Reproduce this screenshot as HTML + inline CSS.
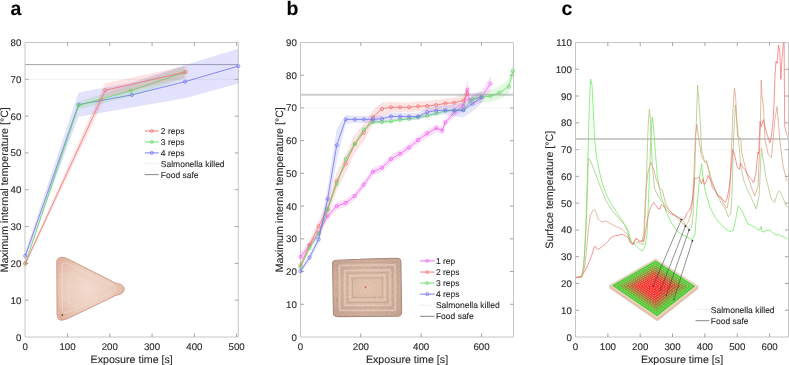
<!DOCTYPE html>
<html><head><meta charset="utf-8"><style>
html,body{margin:0;padding:0;background:#fff;}
svg{display:block;will-change:transform;}
text{font-family:"Liberation Sans", sans-serif;fill:#2a2a2a;text-rendering:geometricPrecision;stroke:#2a2a2a;stroke-width:0.12px;}
.tk{font-size:9.7px;}
.ti{font-size:10.65px;}
.lg{font-size:8.5px;}
.pl{font-size:19.5px;font-weight:bold;fill:#000;}
</style></head><body>
<svg width="789" height="365" viewBox="0 0 789 365">
<rect width="789" height="365" fill="#fff"/>
<path d="M25,42.5 H238.3 V337 H25 Z" fill="none" stroke="#c6c6c6" stroke-width="1"/>
<path d="M67.56,337 v-3.6 M67.56,42.5 v3.6 M109.82,337 v-3.6 M109.82,42.5 v3.6 M152.08,337 v-3.6 M152.08,42.5 v3.6 M194.34,337 v-3.6 M194.34,42.5 v3.6 M236.6,337 v-3.6 M236.6,42.5 v3.6 M25,300.19 h3.6 M238.3,300.19 h-3.6 M25,263.38 h3.6 M238.3,263.38 h-3.6 M25,226.57 h3.6 M238.3,226.57 h-3.6 M25,189.76 h3.6 M238.3,189.76 h-3.6 M25,152.95 h3.6 M238.3,152.95 h-3.6 M25,116.14 h3.6 M238.3,116.14 h-3.6 M25,79.33 h3.6 M238.3,79.33 h-3.6" fill="none" stroke="#9a9a9a" stroke-width="0.9"/>
<text x="25.3" y="349.9" text-anchor="middle" class="tk">0</text>
<text x="67.56" y="349.9" text-anchor="middle" class="tk">100</text>
<text x="109.82" y="349.9" text-anchor="middle" class="tk">200</text>
<text x="152.08" y="349.9" text-anchor="middle" class="tk">300</text>
<text x="194.34" y="349.9" text-anchor="middle" class="tk">400</text>
<text x="236.6" y="349.9" text-anchor="middle" class="tk">500</text>
<text x="21.3" y="340.5" text-anchor="end" class="tk">0</text>
<text x="21.3" y="303.69" text-anchor="end" class="tk">10</text>
<text x="21.3" y="266.88" text-anchor="end" class="tk">20</text>
<text x="21.3" y="230.07" text-anchor="end" class="tk">30</text>
<text x="21.3" y="193.26" text-anchor="end" class="tk">40</text>
<text x="21.3" y="156.45" text-anchor="end" class="tk">50</text>
<text x="21.3" y="119.64" text-anchor="end" class="tk">60</text>
<text x="21.3" y="82.83" text-anchor="end" class="tk">70</text>
<text x="21.3" y="46.02" text-anchor="end" class="tk">80</text>
<text x="131.65" y="362.9" text-anchor="middle" class="ti">Exposure time [s]</text>
<text transform="translate(8.1,189.75) rotate(-90)" text-anchor="middle" class="ti">Maximum internal temperature [°C]</text>
<text x="10.4" y="14.6" class="pl">a</text>
<defs><filter id="noiseF" x="0" y="0" width="1" height="1"><feTurbulence type="fractalNoise" baseFrequency="0.55" numOctaves="2" seed="3"/><feColorMatrix type="matrix" values="0 0 0 0 1  0 0 0 0 0.95  0 0 0 0 0.92  0 0 0 1.6 -0.75"/><feComposite in2="SourceGraphic" operator="in"/></filter><radialGradient id="triG" cx="0.45" cy="0.5" r="0.6"><stop offset="0" stop-color="#f1dacd"/><stop offset="0.6" stop-color="#eacbba"/><stop offset="1" stop-color="#deb19e"/></radialGradient></defs>
<g>
<path d="M56.8,262 C56.8,258.5 59,257 63,257.4 C66,257.8 69,259.5 73,261.5 L112.5,281.5 C114,282 115,283.2 117.5,283.6 C121.5,284 124.2,286.2 124.2,289.2 C124.2,292.5 121,294.6 117,295 C115.5,295.2 114.5,296 113,296.8 L72,316.5 C66,319.5 61,321.5 58.5,319 C57.2,317.5 57,314 57,310 Z" fill="url(#triG)" stroke="#c9937f" stroke-width="0.9"/>
<path d="M62,266 C62,263 64,262.5 67,263.5 L108,283.5 C113,285.5 115,287 115,289 C115,291 112,292.5 108,294.5 L69,312 C65,313.5 62.5,313 62.3,309.5 Z" fill="none" stroke="#f2dccf" stroke-width="0.9" stroke-opacity="0.7"/>
<path d="M69,273 L99,288.5 L69,304 Z" fill="none" stroke="#f2dccf" stroke-width="0.8" stroke-opacity="0.6"/>
<path d="M56.8,262 C56.8,258.5 59,257 63,257.4 C66,257.8 69,259.5 73,261.5 L112.5,281.5 C114,282 115,283.2 117.5,283.6 C121.5,284 124.2,286.2 124.2,289.2 C124.2,292.5 121,294.6 117,295 C115.5,295.2 114.5,296 113,296.8 L72,316.5 C66,319.5 61,321.5 58.5,319 C57.2,317.5 57,314 57,310 Z" fill="#fff" filter="url(#noiseF)" opacity="0.35"/>
<circle cx="62.3" cy="315" r="0.9" fill="#8a4a3a"/>
</g>
<line x1="25.5" y1="79.33" x2="237.8" y2="79.33" stroke="#cfcfcf" stroke-width="0.75" stroke-dasharray="0.8,1.2"/>
<line x1="25.5" y1="64.61" x2="237.8" y2="64.61" stroke="#a2a2a2" stroke-width="1.0"/>
<polygon points="25.3,252.12 78.55,92.47 131.8,82.39 185.04,65.12 238.29,48.81 238.29,83.42 185.04,98.25 131.8,107.42 78.55,116.77 25.3,259.48" fill="#7070f0" fill-opacity="0.2" stroke="none"/>
<polyline points="25.3,255.8 78.55,104.62 131.8,94.9 185.04,81.69 238.29,66.12" fill="none" stroke="#7070f2" stroke-width="0.8" stroke-linejoin="round"/>
<circle cx="25.3" cy="255.8" r="1.6" fill="none" stroke="#7070f2" stroke-width="0.75"/>
<circle cx="78.55" cy="104.62" r="1.6" fill="none" stroke="#7070f2" stroke-width="0.75"/>
<circle cx="131.8" cy="94.9" r="1.6" fill="none" stroke="#7070f2" stroke-width="0.75"/>
<circle cx="185.04" cy="81.69" r="1.6" fill="none" stroke="#7070f2" stroke-width="0.75"/>
<circle cx="238.29" cy="66.12" r="1.6" fill="none" stroke="#7070f2" stroke-width="0.75"/>
<polygon points="25.3,261.39 78.55,101.82 130.95,84.7 183.78,66.23 183.78,78.74 130.95,96.48 78.55,109.18 25.3,265.81" fill="#50d050" fill-opacity="0.16" stroke="none"/>
<polyline points="25.3,263.6 78.55,105.5 130.95,90.59 183.78,72.48" fill="none" stroke="#62da62" stroke-width="0.8" stroke-linejoin="round"/>
<circle cx="25.3" cy="263.6" r="1.6" fill="none" stroke="#62da62" stroke-width="0.75"/>
<circle cx="78.55" cy="105.5" r="1.6" fill="none" stroke="#62da62" stroke-width="0.75"/>
<circle cx="130.95" cy="90.59" r="1.6" fill="none" stroke="#62da62" stroke-width="0.75"/>
<circle cx="183.78" cy="72.48" r="1.6" fill="none" stroke="#62da62" stroke-width="0.75"/>
<polygon points="25.3,261.76 105.17,83.31 185.89,66 185.89,77.78 105.17,97.29 25.3,265.44" fill="#f05050" fill-opacity="0.16" stroke="none"/>
<polyline points="25.3,263.6 105.17,90.3 185.89,71.89" fill="none" stroke="#f07070" stroke-width="0.8" stroke-linejoin="round"/>
<circle cx="25.3" cy="263.6" r="1.6" fill="none" stroke="#f07070" stroke-width="0.75"/>
<circle cx="105.17" cy="90.3" r="1.6" fill="none" stroke="#f07070" stroke-width="0.75"/>
<circle cx="185.89" cy="71.89" r="1.6" fill="none" stroke="#f07070" stroke-width="0.75"/>
<line x1="144.8" y1="131" x2="158.7" y2="131" stroke="#f07070" stroke-width="0.9"/>
<circle cx="151.75" cy="131" r="1.5" fill="none" stroke="#f07070" stroke-width="0.8"/>
<text x="160.8" y="134.1" class="lg">2 reps</text>
<line x1="144.8" y1="141.95" x2="158.7" y2="141.95" stroke="#62da62" stroke-width="0.9"/>
<circle cx="151.75" cy="141.95" r="1.5" fill="none" stroke="#62da62" stroke-width="0.8"/>
<text x="160.8" y="145.05" class="lg">3 reps</text>
<line x1="144.8" y1="152.9" x2="158.7" y2="152.9" stroke="#7070f2" stroke-width="0.9"/>
<circle cx="151.75" cy="152.9" r="1.5" fill="none" stroke="#7070f2" stroke-width="0.8"/>
<text x="160.8" y="156" class="lg">4 reps</text>
<line x1="144.8" y1="163.75" x2="158.7" y2="163.75" stroke="#d4d4d4" stroke-width="0.8" stroke-dasharray="1.2,1.4"/>
<text x="160.8" y="166.85" class="lg">Salmonella killed</text>
<line x1="144.8" y1="174.6" x2="158.7" y2="174.6" stroke="#7a7a7a" stroke-width="0.9"/>
<text x="160.8" y="177.7" class="lg">Food safe</text>
<path d="M300.5,42.5 H513.5 V337 H300.5 Z" fill="none" stroke="#c6c6c6" stroke-width="1"/>
<path d="M360.84,337 v-3.6 M360.84,42.5 v3.6 M421.18,337 v-3.6 M421.18,42.5 v3.6 M481.52,337 v-3.6 M481.52,42.5 v3.6 M300.5,304.28 h3.6 M513.5,304.28 h-3.6 M300.5,271.56 h3.6 M513.5,271.56 h-3.6 M300.5,238.83 h3.6 M513.5,238.83 h-3.6 M300.5,206.11 h3.6 M513.5,206.11 h-3.6 M300.5,173.39 h3.6 M513.5,173.39 h-3.6 M300.5,140.67 h3.6 M513.5,140.67 h-3.6 M300.5,107.95 h3.6 M513.5,107.95 h-3.6 M300.5,75.22 h3.6 M513.5,75.22 h-3.6" fill="none" stroke="#9a9a9a" stroke-width="0.9"/>
<text x="300.5" y="349.9" text-anchor="middle" class="tk">0</text>
<text x="360.84" y="349.9" text-anchor="middle" class="tk">200</text>
<text x="421.18" y="349.9" text-anchor="middle" class="tk">400</text>
<text x="481.52" y="349.9" text-anchor="middle" class="tk">600</text>
<text x="296.8" y="340.5" text-anchor="end" class="tk">0</text>
<text x="296.8" y="307.78" text-anchor="end" class="tk">10</text>
<text x="296.8" y="275.06" text-anchor="end" class="tk">20</text>
<text x="296.8" y="242.33" text-anchor="end" class="tk">30</text>
<text x="296.8" y="209.61" text-anchor="end" class="tk">40</text>
<text x="296.8" y="176.89" text-anchor="end" class="tk">50</text>
<text x="296.8" y="144.17" text-anchor="end" class="tk">60</text>
<text x="296.8" y="111.45" text-anchor="end" class="tk">70</text>
<text x="296.8" y="78.72" text-anchor="end" class="tk">80</text>
<text x="296.8" y="46" text-anchor="end" class="tk">90</text>
<text x="407" y="362.9" text-anchor="middle" class="ti">Exposure time [s]</text>
<text transform="translate(283,189.75) rotate(-90)" text-anchor="middle" class="ti">Maximum internal temperature [°C]</text>
<text x="286.5" y="14.6" class="pl">b</text>
<defs><radialGradient id="sqG" cx="0.5" cy="0.5" r="0.62"><stop offset="0" stop-color="#e4c2aa"/><stop offset="0.5" stop-color="#d8b7a2"/><stop offset="1" stop-color="#c6a290"/></radialGradient></defs>
<g>
<path d="M332.6,263.5 C332.5,261 334.5,260.3 337,260.3 L360,259.4 C364,258.6 368,259.4 372,258.9 L396.5,258.2 C399.5,258.1 400.8,259.5 400.9,262 L401.6,312 C401.7,314.8 400,316.3 397,316.3 L337.5,316.6 C334.5,316.6 333.4,315 333.4,312.5 Z" fill="url(#sqG)" stroke="#a98a7b" stroke-width="1.1"/>
<path d="M339.4,265.4 L395.1,264.8 L395.4,310.2 L339.7,310.4 Z" fill="none" stroke="#e6cdbf" stroke-width="1.4" stroke-opacity="0.7"/>
<path d="M344.6,270.6 L389.9,270.0 L390.2,305.0 L344.9,305.2 Z" fill="none" stroke="#e6cdbf" stroke-width="1.4" stroke-opacity="0.7"/>
<path d="M349.8,275.8 L384.7,275.2 L385.0,299.8 L350.1,300.0 Z" fill="none" stroke="#e6cdbf" stroke-width="1.4" stroke-opacity="0.7"/>
<path d="M336.8,262.8 L397.7,262.2 L398.0,312.8 L337.1,313.0 Z" fill="none" stroke="#b99a8a" stroke-width="0.8" stroke-opacity="0.75"/>
<path d="M342.0,268.0 L392.5,267.4 L392.8,307.6 L342.3,307.8 Z" fill="none" stroke="#b99a8a" stroke-width="0.8" stroke-opacity="0.75"/>
<path d="M347.2,273.2 L387.3,272.6 L387.6,302.4 L347.5,302.6 Z" fill="none" stroke="#b99a8a" stroke-width="0.8" stroke-opacity="0.75"/>
<path d="M352.4,278.4 L382.1,277.8 L382.4,297.2 L352.7,297.4 Z" fill="none" stroke="#b99a8a" stroke-width="0.8" stroke-opacity="0.75"/>
<path d="M332.6,263.5 C332.5,261 334.5,260.3 337,260.3 L360,259.4 C364,258.6 368,259.4 372,258.9 L396.5,258.2 C399.5,258.1 400.8,259.5 400.9,262 L401.6,312 C401.7,314.8 400,316.3 397,316.3 L337.5,316.6 C334.5,316.6 333.4,315 333.4,312.5 Z" fill="#fff" filter="url(#noiseF)" opacity="0.3"/>
<circle cx="365.6" cy="287.3" r="0.9" fill="#c0623a"/>
<circle cx="337" cy="300" r="0.6" fill="#8a6a5a"/>
</g>
<line x1="301" y1="107.95" x2="513" y2="107.95" stroke="#dcdcdc" stroke-width="0.7" stroke-dasharray="0.8,1.2"/>
<line x1="301" y1="94.86" x2="513" y2="94.86" stroke="#cdcdcd" stroke-width="2.0"/>
<polygon points="300.5,252.9 309.55,241.12 318.6,229.02 327.65,212 336.7,202.19 345.75,198.91 354.81,192.04 363.86,180.59 372.91,167.83 381.96,163.9 391.01,155.07 400.06,149.83 409.11,143.61 418.16,136.09 427.21,129.54 436.26,124.31 442.3,126.6 445.32,118.42 454.37,108.6 463.42,100.75 467.34,79.81 469.45,93.55 481.52,90.93 490.57,76.21 490.57,90.6 481.52,102.71 469.45,106.64 467.34,99.44 463.42,111.22 454.37,116.45 445.32,126.27 442.3,134.45 436.26,132.16 427.21,137.4 418.16,143.94 409.11,151.47 400.06,157.68 391.01,162.92 381.96,171.75 372.91,175.68 363.86,188.44 354.81,199.89 345.75,206.77 336.7,210.04 327.65,219.86 318.6,236.87 309.55,248.98 300.5,260.76" fill="#f050f0" fill-opacity="0.17" stroke="none"/>
<polyline points="300.5,256.83 309.55,245.05 318.6,232.94 327.65,215.93 336.7,206.11 345.75,202.84 354.81,195.97 363.86,184.52 372.91,171.75 381.96,167.83 391.01,158.99 400.06,153.76 409.11,147.54 418.16,140.01 427.21,133.47 436.26,128.23 442.3,130.52 445.32,122.34 454.37,112.53 463.42,105.98 467.34,89.62 469.45,100.09 481.52,96.82 490.57,83.4" fill="none" stroke="#f060f0" stroke-width="0.8" stroke-linejoin="round"/>
<circle cx="300.5" cy="256.83" r="1.6" fill="none" stroke="#f060f0" stroke-width="0.75"/>
<circle cx="309.55" cy="245.05" r="1.6" fill="none" stroke="#f060f0" stroke-width="0.75"/>
<circle cx="318.6" cy="232.94" r="1.6" fill="none" stroke="#f060f0" stroke-width="0.75"/>
<circle cx="327.65" cy="215.93" r="1.6" fill="none" stroke="#f060f0" stroke-width="0.75"/>
<circle cx="336.7" cy="206.11" r="1.6" fill="none" stroke="#f060f0" stroke-width="0.75"/>
<circle cx="345.75" cy="202.84" r="1.6" fill="none" stroke="#f060f0" stroke-width="0.75"/>
<circle cx="354.81" cy="195.97" r="1.6" fill="none" stroke="#f060f0" stroke-width="0.75"/>
<circle cx="363.86" cy="184.52" r="1.6" fill="none" stroke="#f060f0" stroke-width="0.75"/>
<circle cx="372.91" cy="171.75" r="1.6" fill="none" stroke="#f060f0" stroke-width="0.75"/>
<circle cx="381.96" cy="167.83" r="1.6" fill="none" stroke="#f060f0" stroke-width="0.75"/>
<circle cx="391.01" cy="158.99" r="1.6" fill="none" stroke="#f060f0" stroke-width="0.75"/>
<circle cx="400.06" cy="153.76" r="1.6" fill="none" stroke="#f060f0" stroke-width="0.75"/>
<circle cx="409.11" cy="147.54" r="1.6" fill="none" stroke="#f060f0" stroke-width="0.75"/>
<circle cx="418.16" cy="140.01" r="1.6" fill="none" stroke="#f060f0" stroke-width="0.75"/>
<circle cx="427.21" cy="133.47" r="1.6" fill="none" stroke="#f060f0" stroke-width="0.75"/>
<circle cx="436.26" cy="128.23" r="1.6" fill="none" stroke="#f060f0" stroke-width="0.75"/>
<circle cx="442.3" cy="130.52" r="1.6" fill="none" stroke="#f060f0" stroke-width="0.75"/>
<circle cx="445.32" cy="122.34" r="1.6" fill="none" stroke="#f060f0" stroke-width="0.75"/>
<circle cx="454.37" cy="112.53" r="1.6" fill="none" stroke="#f060f0" stroke-width="0.75"/>
<circle cx="463.42" cy="105.98" r="1.6" fill="none" stroke="#f060f0" stroke-width="0.75"/>
<circle cx="467.34" cy="89.62" r="1.6" fill="none" stroke="#f060f0" stroke-width="0.75"/>
<circle cx="469.45" cy="100.09" r="1.6" fill="none" stroke="#f060f0" stroke-width="0.75"/>
<circle cx="481.52" cy="96.82" r="1.6" fill="none" stroke="#f060f0" stroke-width="0.75"/>
<circle cx="490.57" cy="83.4" r="1.6" fill="none" stroke="#f060f0" stroke-width="0.75"/>
<polygon points="300.5,262.72 309.55,241.12 318.6,220.51 327.65,200.88 336.7,172.08 345.75,154.41 354.81,134.78 363.86,123.98 372.91,109.91 381.96,102.71 391.01,102.06 400.06,102.38 409.11,102.38 418.16,101.4 427.21,101.07 436.26,100.09 445.32,98.46 454.37,97.47 463.42,94.53 467.34,86.68 467.34,101.07 463.42,106.31 454.37,107.95 445.32,108.27 436.26,109.91 427.21,110.89 418.16,111.22 409.11,112.2 400.06,112.2 391.01,112.53 381.96,115.14 372.91,124.31 363.86,141 354.81,153.1 345.75,172.74 336.7,190.41 327.65,216.58 318.6,232.29 309.55,248.98 300.5,267.96" fill="#f05050" fill-opacity="0.16" stroke="none"/>
<polyline points="300.5,265.34 309.55,245.05 318.6,226.4 327.65,208.73 336.7,181.24 345.75,163.57 354.81,143.94 363.86,132.49 372.91,117.11 381.96,108.93 391.01,107.29 400.06,107.29 409.11,107.29 418.16,106.31 427.21,105.98 436.26,105 445.32,103.36 454.37,102.71 463.42,100.42 467.34,93.88" fill="none" stroke="#f07070" stroke-width="0.8" stroke-linejoin="round"/>
<circle cx="300.5" cy="265.34" r="1.6" fill="none" stroke="#f07070" stroke-width="0.75"/>
<circle cx="309.55" cy="245.05" r="1.6" fill="none" stroke="#f07070" stroke-width="0.75"/>
<circle cx="318.6" cy="226.4" r="1.6" fill="none" stroke="#f07070" stroke-width="0.75"/>
<circle cx="327.65" cy="208.73" r="1.6" fill="none" stroke="#f07070" stroke-width="0.75"/>
<circle cx="336.7" cy="181.24" r="1.6" fill="none" stroke="#f07070" stroke-width="0.75"/>
<circle cx="345.75" cy="163.57" r="1.6" fill="none" stroke="#f07070" stroke-width="0.75"/>
<circle cx="354.81" cy="143.94" r="1.6" fill="none" stroke="#f07070" stroke-width="0.75"/>
<circle cx="363.86" cy="132.49" r="1.6" fill="none" stroke="#f07070" stroke-width="0.75"/>
<circle cx="372.91" cy="117.11" r="1.6" fill="none" stroke="#f07070" stroke-width="0.75"/>
<circle cx="381.96" cy="108.93" r="1.6" fill="none" stroke="#f07070" stroke-width="0.75"/>
<circle cx="391.01" cy="107.29" r="1.6" fill="none" stroke="#f07070" stroke-width="0.75"/>
<circle cx="400.06" cy="107.29" r="1.6" fill="none" stroke="#f07070" stroke-width="0.75"/>
<circle cx="409.11" cy="107.29" r="1.6" fill="none" stroke="#f07070" stroke-width="0.75"/>
<circle cx="418.16" cy="106.31" r="1.6" fill="none" stroke="#f07070" stroke-width="0.75"/>
<circle cx="427.21" cy="105.98" r="1.6" fill="none" stroke="#f07070" stroke-width="0.75"/>
<circle cx="436.26" cy="105" r="1.6" fill="none" stroke="#f07070" stroke-width="0.75"/>
<circle cx="445.32" cy="103.36" r="1.6" fill="none" stroke="#f07070" stroke-width="0.75"/>
<circle cx="454.37" cy="102.71" r="1.6" fill="none" stroke="#f07070" stroke-width="0.75"/>
<circle cx="463.42" cy="100.42" r="1.6" fill="none" stroke="#f07070" stroke-width="0.75"/>
<circle cx="467.34" cy="93.88" r="1.6" fill="none" stroke="#f07070" stroke-width="0.75"/>
<polygon points="300.5,265.34 309.55,246.03 318.6,231.96 327.65,208.08 336.7,181.9 345.75,157.03 354.81,141.98 363.86,127.58 372.91,120.05 381.96,120.05 391.01,119.4 400.06,117.76 409.11,116.78 418.16,115.14 427.21,113.84 436.26,111.55 445.32,108.93 454.37,108.6 463.42,107.95 472.47,95.18 481.52,91.91 490.57,90.28 499.62,86.02 508.67,79.48 512.9,63.12 512.9,78.82 508.67,93.88 499.62,99.11 490.57,102.06 481.52,102.38 472.47,103.04 463.42,111.87 454.37,112.53 445.32,112.85 436.26,115.47 427.21,117.76 418.16,119.07 409.11,120.71 400.06,121.69 391.01,123.33 381.96,123.98 372.91,123.98 363.86,131.51 354.81,145.9 345.75,160.96 336.7,185.82 327.65,212 318.6,235.89 309.55,249.96 300.5,269.27" fill="#50d050" fill-opacity="0.16" stroke="none"/>
<polyline points="300.5,267.3 309.55,248 318.6,233.93 327.65,210.04 336.7,183.86 345.75,158.99 354.81,143.94 363.86,129.54 372.91,122.02 381.96,122.02 391.01,121.36 400.06,119.73 409.11,118.74 418.16,117.11 427.21,115.8 436.26,113.51 445.32,110.89 454.37,110.56 463.42,109.91 472.47,99.11 481.52,97.15 490.57,96.17 499.62,92.57 508.67,86.68 512.9,70.97" fill="none" stroke="#62da62" stroke-width="0.8" stroke-linejoin="round"/>
<circle cx="300.5" cy="267.3" r="1.6" fill="none" stroke="#62da62" stroke-width="0.75"/>
<circle cx="309.55" cy="248" r="1.6" fill="none" stroke="#62da62" stroke-width="0.75"/>
<circle cx="318.6" cy="233.93" r="1.6" fill="none" stroke="#62da62" stroke-width="0.75"/>
<circle cx="327.65" cy="210.04" r="1.6" fill="none" stroke="#62da62" stroke-width="0.75"/>
<circle cx="336.7" cy="183.86" r="1.6" fill="none" stroke="#62da62" stroke-width="0.75"/>
<circle cx="345.75" cy="158.99" r="1.6" fill="none" stroke="#62da62" stroke-width="0.75"/>
<circle cx="354.81" cy="143.94" r="1.6" fill="none" stroke="#62da62" stroke-width="0.75"/>
<circle cx="363.86" cy="129.54" r="1.6" fill="none" stroke="#62da62" stroke-width="0.75"/>
<circle cx="372.91" cy="122.02" r="1.6" fill="none" stroke="#62da62" stroke-width="0.75"/>
<circle cx="381.96" cy="122.02" r="1.6" fill="none" stroke="#62da62" stroke-width="0.75"/>
<circle cx="391.01" cy="121.36" r="1.6" fill="none" stroke="#62da62" stroke-width="0.75"/>
<circle cx="400.06" cy="119.73" r="1.6" fill="none" stroke="#62da62" stroke-width="0.75"/>
<circle cx="409.11" cy="118.74" r="1.6" fill="none" stroke="#62da62" stroke-width="0.75"/>
<circle cx="418.16" cy="117.11" r="1.6" fill="none" stroke="#62da62" stroke-width="0.75"/>
<circle cx="427.21" cy="115.8" r="1.6" fill="none" stroke="#62da62" stroke-width="0.75"/>
<circle cx="436.26" cy="113.51" r="1.6" fill="none" stroke="#62da62" stroke-width="0.75"/>
<circle cx="445.32" cy="110.89" r="1.6" fill="none" stroke="#62da62" stroke-width="0.75"/>
<circle cx="454.37" cy="110.56" r="1.6" fill="none" stroke="#62da62" stroke-width="0.75"/>
<circle cx="463.42" cy="109.91" r="1.6" fill="none" stroke="#62da62" stroke-width="0.75"/>
<circle cx="472.47" cy="99.11" r="1.6" fill="none" stroke="#62da62" stroke-width="0.75"/>
<circle cx="481.52" cy="97.15" r="1.6" fill="none" stroke="#62da62" stroke-width="0.75"/>
<circle cx="490.57" cy="96.17" r="1.6" fill="none" stroke="#62da62" stroke-width="0.75"/>
<circle cx="499.62" cy="92.57" r="1.6" fill="none" stroke="#62da62" stroke-width="0.75"/>
<circle cx="508.67" cy="86.68" r="1.6" fill="none" stroke="#62da62" stroke-width="0.75"/>
<circle cx="512.9" cy="70.97" r="1.6" fill="none" stroke="#62da62" stroke-width="0.75"/>
<polygon points="300.5,268.61 309.55,254.54 318.6,235.56 327.65,187.46 336.7,128.89 345.75,115.14 354.81,115.8 363.86,115.8 372.91,115.8 381.96,115.14 391.01,112.85 400.06,112.85 409.11,112.85 418.16,112.85 427.21,108.27 436.26,106.31 445.32,105.66 454.37,104.35 463.42,103.04 472.47,95.84 481.52,91.58 481.52,103.36 472.47,111.55 463.42,117.44 454.37,116.13 445.32,114.82 436.26,114.82 427.21,116.13 418.16,120.05 409.11,120.05 400.06,120.05 391.01,120.05 381.96,122.34 372.91,123 363.86,123 354.81,123 345.75,123.65 336.7,161.61 327.65,210.37 318.6,243.42 309.55,260.43 300.5,273.85" fill="#7070f0" fill-opacity="0.18" stroke="none"/>
<polyline points="300.5,271.23 309.55,257.49 318.6,239.49 327.65,198.91 336.7,145.25 345.75,119.4 354.81,119.4 363.86,119.4 372.91,119.4 381.96,118.74 391.01,116.45 400.06,116.45 409.11,116.45 418.16,116.45 427.21,112.2 436.26,110.56 445.32,110.24 454.37,110.24 463.42,110.24 472.47,103.69 481.52,97.47" fill="none" stroke="#7070f2" stroke-width="0.8" stroke-linejoin="round"/>
<circle cx="300.5" cy="271.23" r="1.6" fill="none" stroke="#7070f2" stroke-width="0.75"/>
<circle cx="309.55" cy="257.49" r="1.6" fill="none" stroke="#7070f2" stroke-width="0.75"/>
<circle cx="318.6" cy="239.49" r="1.6" fill="none" stroke="#7070f2" stroke-width="0.75"/>
<circle cx="327.65" cy="198.91" r="1.6" fill="none" stroke="#7070f2" stroke-width="0.75"/>
<circle cx="336.7" cy="145.25" r="1.6" fill="none" stroke="#7070f2" stroke-width="0.75"/>
<circle cx="345.75" cy="119.4" r="1.6" fill="none" stroke="#7070f2" stroke-width="0.75"/>
<circle cx="354.81" cy="119.4" r="1.6" fill="none" stroke="#7070f2" stroke-width="0.75"/>
<circle cx="363.86" cy="119.4" r="1.6" fill="none" stroke="#7070f2" stroke-width="0.75"/>
<circle cx="372.91" cy="119.4" r="1.6" fill="none" stroke="#7070f2" stroke-width="0.75"/>
<circle cx="381.96" cy="118.74" r="1.6" fill="none" stroke="#7070f2" stroke-width="0.75"/>
<circle cx="391.01" cy="116.45" r="1.6" fill="none" stroke="#7070f2" stroke-width="0.75"/>
<circle cx="400.06" cy="116.45" r="1.6" fill="none" stroke="#7070f2" stroke-width="0.75"/>
<circle cx="409.11" cy="116.45" r="1.6" fill="none" stroke="#7070f2" stroke-width="0.75"/>
<circle cx="418.16" cy="116.45" r="1.6" fill="none" stroke="#7070f2" stroke-width="0.75"/>
<circle cx="427.21" cy="112.2" r="1.6" fill="none" stroke="#7070f2" stroke-width="0.75"/>
<circle cx="436.26" cy="110.56" r="1.6" fill="none" stroke="#7070f2" stroke-width="0.75"/>
<circle cx="445.32" cy="110.24" r="1.6" fill="none" stroke="#7070f2" stroke-width="0.75"/>
<circle cx="454.37" cy="110.24" r="1.6" fill="none" stroke="#7070f2" stroke-width="0.75"/>
<circle cx="463.42" cy="110.24" r="1.6" fill="none" stroke="#7070f2" stroke-width="0.75"/>
<circle cx="472.47" cy="103.69" r="1.6" fill="none" stroke="#7070f2" stroke-width="0.75"/>
<circle cx="481.52" cy="97.47" r="1.6" fill="none" stroke="#7070f2" stroke-width="0.75"/>
<line x1="420" y1="260.9" x2="434.6" y2="260.9" stroke="#f060f0" stroke-width="0.9"/>
<circle cx="427.3" cy="260.9" r="1.5" fill="none" stroke="#f060f0" stroke-width="0.8"/>
<text x="435.9" y="264" class="lg">1 rep</text>
<line x1="420" y1="272.05" x2="434.6" y2="272.05" stroke="#f07070" stroke-width="0.9"/>
<circle cx="427.3" cy="272.05" r="1.5" fill="none" stroke="#f07070" stroke-width="0.8"/>
<text x="435.9" y="275.15" class="lg">2 reps</text>
<line x1="420" y1="283.1" x2="434.6" y2="283.1" stroke="#62da62" stroke-width="0.9"/>
<circle cx="427.3" cy="283.1" r="1.5" fill="none" stroke="#62da62" stroke-width="0.8"/>
<text x="435.9" y="286.2" class="lg">3 reps</text>
<line x1="420" y1="294.15" x2="434.6" y2="294.15" stroke="#7070f2" stroke-width="0.9"/>
<circle cx="427.3" cy="294.15" r="1.5" fill="none" stroke="#7070f2" stroke-width="0.8"/>
<text x="435.9" y="297.25" class="lg">4 reps</text>
<line x1="420" y1="305.25" x2="434.6" y2="305.25" stroke="#d4d4d4" stroke-width="0.8" stroke-dasharray="1.2,1.4"/>
<text x="435.9" y="308.35" class="lg">Salmonella killed</text>
<line x1="420" y1="316.3" x2="434.6" y2="316.3" stroke="#7a7a7a" stroke-width="0.9"/>
<text x="435.9" y="319.4" class="lg">Food safe</text>
<path d="M575.5,42.5 H788.5 V337 H575.5 Z" fill="none" stroke="#c6c6c6" stroke-width="1"/>
<path d="M607.85,337 v-3.6 M607.85,42.5 v3.6 M640.2,337 v-3.6 M640.2,42.5 v3.6 M672.55,337 v-3.6 M672.55,42.5 v3.6 M704.9,337 v-3.6 M704.9,42.5 v3.6 M737.25,337 v-3.6 M737.25,42.5 v3.6 M769.6,337 v-3.6 M769.6,42.5 v3.6 M575.5,310.23 h3.6 M788.5,310.23 h-3.6 M575.5,283.45 h3.6 M788.5,283.45 h-3.6 M575.5,256.68 h3.6 M788.5,256.68 h-3.6 M575.5,229.91 h3.6 M788.5,229.91 h-3.6 M575.5,203.14 h3.6 M788.5,203.14 h-3.6 M575.5,176.36 h3.6 M788.5,176.36 h-3.6 M575.5,149.59 h3.6 M788.5,149.59 h-3.6 M575.5,122.82 h3.6 M788.5,122.82 h-3.6 M575.5,96.04 h3.6 M788.5,96.04 h-3.6 M575.5,69.27 h3.6 M788.5,69.27 h-3.6" fill="none" stroke="#9a9a9a" stroke-width="0.9"/>
<text x="575.5" y="349.9" text-anchor="middle" class="tk">0</text>
<text x="607.85" y="349.9" text-anchor="middle" class="tk">100</text>
<text x="640.2" y="349.9" text-anchor="middle" class="tk">200</text>
<text x="672.55" y="349.9" text-anchor="middle" class="tk">300</text>
<text x="704.9" y="349.9" text-anchor="middle" class="tk">400</text>
<text x="737.25" y="349.9" text-anchor="middle" class="tk">500</text>
<text x="769.6" y="349.9" text-anchor="middle" class="tk">600</text>
<text x="571.8" y="340.5" text-anchor="end" class="tk">0</text>
<text x="571.8" y="313.73" text-anchor="end" class="tk">10</text>
<text x="571.8" y="286.95" text-anchor="end" class="tk">20</text>
<text x="571.8" y="260.18" text-anchor="end" class="tk">30</text>
<text x="571.8" y="233.41" text-anchor="end" class="tk">40</text>
<text x="571.8" y="206.64" text-anchor="end" class="tk">50</text>
<text x="571.8" y="179.86" text-anchor="end" class="tk">60</text>
<text x="571.8" y="153.09" text-anchor="end" class="tk">70</text>
<text x="571.8" y="126.32" text-anchor="end" class="tk">80</text>
<text x="571.8" y="99.54" text-anchor="end" class="tk">90</text>
<text x="571.8" y="72.77" text-anchor="end" class="tk">100</text>
<text x="571.8" y="46" text-anchor="end" class="tk">110</text>
<text x="682" y="362.9" text-anchor="middle" class="ti">Exposure time [s]</text>
<text transform="translate(552.6,189.75) rotate(-90)" text-anchor="middle" class="ti">Surface temperature [°C]</text>
<text x="561.6" y="14.6" class="pl">c</text>
<line x1="576" y1="149.59" x2="788" y2="149.59" stroke="#dcdcdc" stroke-width="0.7" stroke-dasharray="0.8,1.2"/>
<line x1="576" y1="138.88" x2="788" y2="138.88" stroke="#cdcdcd" stroke-width="2.0"/>
<defs><clipPath id="cc"><rect x="576" y="42.4" width="211.6" height="294.5"/></clipPath></defs>
<g clip-path="url(#cc)" fill="none" stroke-width="0.7" stroke-linejoin="round">
<polyline points="575.5,277.5 581.5,277 583.8,266 585,243 586.2,215 587.3,180 588.4,140 589.5,100 590.6,79 592,85 593.5,115 594.7,140 596.5,157 599.7,172.9 602.5,184 606.2,194.3 610,202 614.5,209.1 619,216 624.3,223.9 628.2,230.5 629.8,237 632.3,243.6 634.7,244.4 637.2,247 639.7,249.3 642.1,251 643.8,249.3 645.4,244.4 647.1,233 647.9,216 648.9,190 650,160 651.3,128 652.3,117 653.5,126 655,148 657.3,176 661.2,197 666.4,212.5 671.6,223 676.8,230.7 682,234.6 687.2,237.2 692.5,240 695.1,233.3 696.4,215 698,195 699.8,175 701.6,164 703.1,178.7 705.4,191.8 708,200 709.9,207 714.8,216.8 719.7,223 724.7,228 729.6,231.6 733.3,230.4 735.7,219.3 738.2,205.7 740,207.5 744.4,216 748,224 751.5,225.5 755,227.5 757.5,229.5 759.5,230 761.2,226.5 762,231.5 764,232 766,230.5 770,230.3 773,233 776,235.2 778.5,234.5 781,236 784,237 788,239.5" stroke="#62e852"/>
<polyline points="575.5,277.5 581.5,277 583,270 584.5,255 586,230 587.5,190 588.2,158 590,160 591.4,163 596.4,176.2 601.3,189.3 606.2,200.9 611.2,209.1 617.8,217.3 624.3,224.5 626.5,229 628.2,233.7 629.8,241.9 631.4,243.6 633.1,242.8 635.6,243.6 638,241.9 640.5,243.6 643,244.4 644.3,233 645.1,216 646,190 647,160 648.2,125 649.4,109 650.5,120 651.5,150 652.5,168 654.7,189 658.6,197 662.5,202 666.4,207.3 671.6,212.5 676.8,217.7 682,222.9 687.2,226.8 689.1,230 691.5,228 693,215 694.5,180 696,130 697.6,85 698.8,99.7 700.5,126 701.5,148 702.1,152 704.4,160.7 707.7,165 709.9,173.8 713.1,184.7 716.4,193.5 719.7,200.1 723,205.5 725.2,208.8 728.4,216.8 730.8,213.1 732,194.7 733.5,140 735.4,105 736.1,112.8 737.2,123.8 738.3,137 739.5,150 740.5,165 743.8,180.4 747.1,189.1 750.4,195.7 753.6,203 756.4,208.9 759.1,195.8 760.4,169.5 761.4,148.1 763.7,162.9 766.3,179.3 771.3,199.1 774.5,202.4 777.8,192.5 779.5,190.9 782.8,197.4 786.1,205.7 788,208" stroke="#a2c274"/>
<polyline points="575.5,277.5 581.6,277 582.7,274.6 584.9,265.8 587.1,244 588.6,226.3 590.4,215.4 592.6,211 594.3,209.2 595.9,212.1 597,215.4 598,218.7 600.2,220.9 602.4,222 604.6,220.9 607.9,222 611.2,224.1 614.5,225.9 617.8,227.4 621.1,228.5 624.9,232.1 628.2,235.4 630.6,242.8 633.1,244.4 635.6,239.5 637.2,238.7 639.7,241.1 642.1,241.9 643.8,233 644.6,216.4 645.4,200 646.5,185 648,172 650.8,162.5 653.4,168.2 656,178.6 659.9,189 662.5,190.3 665.1,202 669,209.9 672.9,213.8 676.8,216.4 680.7,219 684.6,222.9 685.4,226 688.5,221.6 691.2,212.5 692.5,202 694,170 695.5,135 696.8,124.4 698.8,139.2 701.4,155.7 704.7,162.2 706.4,160.6 708.7,170.5 712,186.9 715.3,191.3 718.6,195.7 721.9,200.1 724.1,204.4 726.3,207.7 727.1,208.2 729.6,194.7 731.5,150 733,110 734.4,88.3 735.5,95 736.5,115 737.5,136.3 740.8,138.5 741.9,153.8 746.6,172.8 751.5,187.6 754.8,195.8 758.1,185.9 759.7,146.4 760.5,120 761.2,80 762,96.4 763.6,107.4 765,139.5 768.2,154.3 771.5,157.6 774.8,119.7 777.1,106.6 779.7,139.5 783,165.8 786.3,178.9 788,182" stroke="#d99a76"/>
<polyline points="575.5,277.5 581.6,276.5 583.2,273.5 584.9,271 587.3,266.1 589.8,260.4 592.3,253.8 593.9,248 595.1,246.1 596.4,248 598,249.7 601.3,247.2 604.6,244.7 607.9,241.4 610.4,238.2 615,235.7 618.3,235.4 621.6,234.2 624,235.4 626.5,236.2 629,238.7 630.6,242.8 633.1,244.4 635.6,238.7 637.2,239.5 639.7,241.9 642.1,240.3 643.8,241.1 645.4,232.9 647.1,221.4 648.7,213.2 650.4,208.2 652,204.9 653.7,202.5 655.3,204.9 657.8,208.2 660,209 661.2,204.7 663.8,206 666.4,209.9 670.3,213.8 674.2,215.1 678.1,217.2 681.5,219.5 684.6,219 687.2,212.5 689.9,209.9 692.5,199.5 694.8,178.4 696.5,178.7 698.1,177 699.8,178.7 701.4,183.8 703.1,178.7 704.4,184.7 706.6,180.4 708,175.4 710.7,180.3 713,185.3 716.3,191.8 717.5,195.7 720.8,196.8 723,200.1 725.2,202.3 727.4,197.9 729.6,184.7 731.7,162.8 732.8,149.7 735,156.3 737.2,167.2 739.4,169.4 740.5,162.8 742.7,167.2 744.9,169.4 747.1,173.8 749.3,177.1 751.5,179.3 753.6,182.6 755.8,173.8 758,151.9 758.7,154 760.1,121.1 761.4,126.6 763.3,119.7 766.6,132.9 769.9,143 771.5,135 773.2,119.7 774.2,100 775,75 776,61 777.2,63.4 778.4,45 779.7,50 780.9,79.4 782.1,57.3 783.4,42.5 784.1,42.5 784.7,126.3 786.3,132.9 788,138" stroke="#f06868"/>
</g>
<path d="M655.6,258.9 L698.3,286.3 L657.2,318.6 L609.4,285.6 Z" fill="#efd3c2" stroke="#dcbba6" stroke-width="0.6"/>
<path d="M609.4,285.6 L657.2,318.6 L698.3,286.3 L698.4,288.8 L657.3,321.2 L609.5,288.2 Z" fill="#e2c0aa"/>
<polygon points="655.6,260.6 695.2,286.2 657,316.3 612,285.5" fill="rgb(73, 205, 54)"/>
<polygon points="655.4,262.73 691.7,286.2 656.68,313.79 615.43,285.56" fill="rgb(79, 200, 51)" stroke="#ffe2d4" stroke-opacity="0.7" stroke-width="0.7" stroke-dasharray="1.3,0.7"/>
<polygon points="655.2,264.87 688.2,286.2 656.37,311.28 618.87,285.62" fill="rgb(104, 179, 48)" stroke="#ffe2d4" stroke-opacity="0.7" stroke-width="0.7" stroke-dasharray="1.3,0.7"/>
<polygon points="655,267 684.7,286.2 656.05,308.77 622.3,285.68" fill="rgb(135, 148, 45)" stroke="#ffe2d4" stroke-opacity="0.7" stroke-width="0.7" stroke-dasharray="1.3,0.7"/>
<polygon points="654.8,269.13 681.2,286.2 655.73,306.27 625.73,285.73" fill="rgb(163, 119, 45)" stroke="#ffe2d4" stroke-opacity="0.7" stroke-width="0.7" stroke-dasharray="1.3,0.7"/>
<polygon points="654.6,271.27 677.7,286.2 655.42,303.76 629.17,285.79" fill="rgb(191, 92, 45)" stroke="#ffe2d4" stroke-opacity="0.7" stroke-width="0.7" stroke-dasharray="1.3,0.7"/>
<polygon points="654.4,273.4 674.2,286.2 655.1,301.25 632.6,285.85" fill="rgb(214, 72, 45)" stroke="#ffe2d4" stroke-opacity="0.7" stroke-width="0.7" stroke-dasharray="1.3,0.7"/>
<polygon points="654.2,275.53 670.7,286.2 654.78,298.74 636.03,285.91" fill="rgb(236, 53, 45)" stroke="#ffe2d4" stroke-opacity="0.7" stroke-width="0.7" stroke-dasharray="1.3,0.7"/>
<polygon points="654,277.67 667.2,286.2 654.47,296.23 639.47,285.97" fill="rgb(243, 48, 44)" stroke="#ffe2d4" stroke-opacity="0.7" stroke-width="0.7" stroke-dasharray="1.3,0.7"/>
<polygon points="653.8,279.8 663.7,286.2 654.15,293.73 642.9,286.02" fill="rgb(246, 46, 43)" stroke="#ffe2d4" stroke-opacity="0.7" stroke-width="0.7" stroke-dasharray="1.3,0.7"/>
<polygon points="653.6,281.93 660.2,286.2 653.83,291.22 646.33,286.08" fill="rgb(250, 43, 42)" stroke="#ffe2d4" stroke-opacity="0.7" stroke-width="0.7" stroke-dasharray="1.3,0.7"/>
<polygon points="653.4,284.07 656.7,286.2 653.52,288.71 649.77,286.14" fill="rgb(253, 41, 41)" stroke="#ffe2d4" stroke-opacity="0.7" stroke-width="0.7" stroke-dasharray="1.3,0.7"/>
<line x1="681.4" y1="219.6" x2="653.2" y2="285.6" stroke="#3a3a3a" stroke-width="0.55"/>
<circle cx="681.4" cy="219.6" r="0.9" fill="#222"/>
<circle cx="653.2" cy="285.6" r="0.7" fill="#444"/>
<line x1="685.4" y1="226.2" x2="660.4" y2="290.4" stroke="#3a3a3a" stroke-width="0.55"/>
<circle cx="685.4" cy="226.2" r="0.9" fill="#222"/>
<circle cx="660.4" cy="290.4" r="0.7" fill="#444"/>
<line x1="689.1" y1="229.9" x2="666.3" y2="295.2" stroke="#3a3a3a" stroke-width="0.55"/>
<circle cx="689.1" cy="229.9" r="0.9" fill="#222"/>
<circle cx="666.3" cy="295.2" r="0.7" fill="#444"/>
<line x1="692.4" y1="240.8" x2="673.8" y2="299.6" stroke="#3a3a3a" stroke-width="0.55"/>
<circle cx="692.4" cy="240.8" r="0.9" fill="#222"/>
<circle cx="673.8" cy="299.6" r="0.7" fill="#444"/>
<line x1="695.5" y1="309.6" x2="709.4" y2="309.6" stroke="#d4d4d4" stroke-width="0.8" stroke-dasharray="1.2,1.4"/>
<text x="710.8" y="312.7" class="lg">Salmonella killed</text>
<line x1="695.5" y1="320.7" x2="709.4" y2="320.7" stroke="#7a7a7a" stroke-width="0.9"/>
<text x="710.8" y="323.8" class="lg">Food safe</text>
</svg>
</body></html>
